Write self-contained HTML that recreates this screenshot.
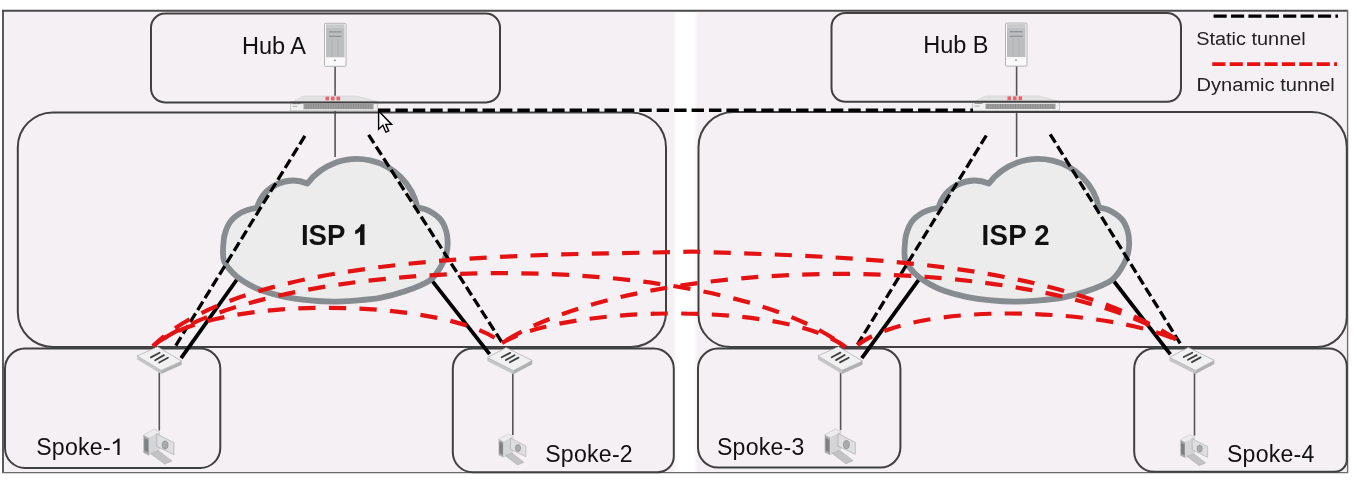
<!DOCTYPE html>
<html><head><meta charset="utf-8"><title>Hub and spoke</title>
<style>html,body{margin:0;padding:0;background:#fff;width:1357px;height:482px;overflow:hidden}svg{display:block}text{will-change:transform}</style>
</head><body>
<svg width="1357" height="482" viewBox="0 0 1357 482"><rect x="0" y="0" width="1357" height="482" fill="#ffffff"/>
<rect x="3" y="10.8" width="1344.5" height="461.8" fill="#f5f0f4"/>
<defs><linearGradient id="ws" x1="0" x2="1" y1="0" y2="0"><stop offset="0" stop-color="#ffffff" stop-opacity="0"/><stop offset="0.18" stop-color="#ffffff"/><stop offset="0.82" stop-color="#ffffff"/><stop offset="1" stop-color="#ffffff" stop-opacity="0"/></linearGradient></defs>
<rect x="672.5" y="12" width="25.5" height="460" fill="url(#ws)"/>
<line x1="2" y1="10.8" x2="1348" y2="10.8" stroke="#4a4a4a" stroke-width="2"/>
<line x1="3" y1="10" x2="3" y2="473" stroke="#4a4a4a" stroke-width="1.8"/>
<line x1="1347.6" y1="10" x2="1347.6" y2="473" stroke="#707070" stroke-width="1.4"/>
<line x1="2" y1="472.6" x2="1348" y2="472.6" stroke="#6a6a6a" stroke-width="1.4"/>
<g stroke="#555" stroke-width="1.6">
<line x1="335.1" y1="66" x2="335.1" y2="157"/>
<line x1="1016.6" y1="66" x2="1016.6" y2="157"/>
</g>
<g transform="translate(290.5,95.8)"><polygon points="2.5,5.8 13,0.3 66,0.3 87,5.8" fill="#e2e2e3" stroke="#cfcfd0" stroke-width="0.6"/><rect x="35" y="0.8" width="3.6" height="3.8" fill="#e8646c"/><rect x="40.5" y="0.8" width="3.6" height="3.8" fill="#e8646c"/><rect x="46" y="0.8" width="3.6" height="3.8" fill="#e8646c"/><rect x="0" y="5.8" width="87" height="9.2" fill="#f0f0f0" stroke="#c0c0c0" stroke-width="0.8"/><rect x="13" y="8.2" width="70" height="5.2" fill="#9c9c9d"/><g stroke="#808081" stroke-width="0.5"><line x1="15.5" y1="8.4" x2="15.5" y2="13.2"/><line x1="18.0" y1="8.4" x2="18.0" y2="13.2"/><line x1="20.5" y1="8.4" x2="20.5" y2="13.2"/><line x1="23.0" y1="8.4" x2="23.0" y2="13.2"/><line x1="25.5" y1="8.4" x2="25.5" y2="13.2"/><line x1="28.0" y1="8.4" x2="28.0" y2="13.2"/><line x1="30.5" y1="8.4" x2="30.5" y2="13.2"/><line x1="33.0" y1="8.4" x2="33.0" y2="13.2"/><line x1="35.5" y1="8.4" x2="35.5" y2="13.2"/><line x1="38.0" y1="8.4" x2="38.0" y2="13.2"/><line x1="40.5" y1="8.4" x2="40.5" y2="13.2"/><line x1="43.0" y1="8.4" x2="43.0" y2="13.2"/><line x1="45.5" y1="8.4" x2="45.5" y2="13.2"/><line x1="48.0" y1="8.4" x2="48.0" y2="13.2"/><line x1="50.5" y1="8.4" x2="50.5" y2="13.2"/><line x1="53.0" y1="8.4" x2="53.0" y2="13.2"/><line x1="55.5" y1="8.4" x2="55.5" y2="13.2"/><line x1="58.0" y1="8.4" x2="58.0" y2="13.2"/><line x1="60.5" y1="8.4" x2="60.5" y2="13.2"/><line x1="63.0" y1="8.4" x2="63.0" y2="13.2"/><line x1="65.5" y1="8.4" x2="65.5" y2="13.2"/><line x1="68.0" y1="8.4" x2="68.0" y2="13.2"/><line x1="70.5" y1="8.4" x2="70.5" y2="13.2"/><line x1="73.0" y1="8.4" x2="73.0" y2="13.2"/><line x1="75.5" y1="8.4" x2="75.5" y2="13.2"/><line x1="78.0" y1="8.4" x2="78.0" y2="13.2"/><line x1="80.5" y1="8.4" x2="80.5" y2="13.2"/></g><rect x="2" y="7.4" width="8" height="1" fill="#9a9a9a"/><rect x="2" y="10" width="5" height="1" fill="#b0b0b0"/></g>
<g transform="translate(972.5,95.6)"><polygon points="2.5,5.8 13,0.3 66,0.3 87,5.8" fill="#e2e2e3" stroke="#cfcfd0" stroke-width="0.6"/><rect x="35" y="0.8" width="3.6" height="3.8" fill="#e8646c"/><rect x="40.5" y="0.8" width="3.6" height="3.8" fill="#e8646c"/><rect x="46" y="0.8" width="3.6" height="3.8" fill="#e8646c"/><rect x="0" y="5.8" width="87" height="9.2" fill="#f0f0f0" stroke="#c0c0c0" stroke-width="0.8"/><rect x="13" y="8.2" width="70" height="5.2" fill="#9c9c9d"/><g stroke="#808081" stroke-width="0.5"><line x1="15.5" y1="8.4" x2="15.5" y2="13.2"/><line x1="18.0" y1="8.4" x2="18.0" y2="13.2"/><line x1="20.5" y1="8.4" x2="20.5" y2="13.2"/><line x1="23.0" y1="8.4" x2="23.0" y2="13.2"/><line x1="25.5" y1="8.4" x2="25.5" y2="13.2"/><line x1="28.0" y1="8.4" x2="28.0" y2="13.2"/><line x1="30.5" y1="8.4" x2="30.5" y2="13.2"/><line x1="33.0" y1="8.4" x2="33.0" y2="13.2"/><line x1="35.5" y1="8.4" x2="35.5" y2="13.2"/><line x1="38.0" y1="8.4" x2="38.0" y2="13.2"/><line x1="40.5" y1="8.4" x2="40.5" y2="13.2"/><line x1="43.0" y1="8.4" x2="43.0" y2="13.2"/><line x1="45.5" y1="8.4" x2="45.5" y2="13.2"/><line x1="48.0" y1="8.4" x2="48.0" y2="13.2"/><line x1="50.5" y1="8.4" x2="50.5" y2="13.2"/><line x1="53.0" y1="8.4" x2="53.0" y2="13.2"/><line x1="55.5" y1="8.4" x2="55.5" y2="13.2"/><line x1="58.0" y1="8.4" x2="58.0" y2="13.2"/><line x1="60.5" y1="8.4" x2="60.5" y2="13.2"/><line x1="63.0" y1="8.4" x2="63.0" y2="13.2"/><line x1="65.5" y1="8.4" x2="65.5" y2="13.2"/><line x1="68.0" y1="8.4" x2="68.0" y2="13.2"/><line x1="70.5" y1="8.4" x2="70.5" y2="13.2"/><line x1="73.0" y1="8.4" x2="73.0" y2="13.2"/><line x1="75.5" y1="8.4" x2="75.5" y2="13.2"/><line x1="78.0" y1="8.4" x2="78.0" y2="13.2"/><line x1="80.5" y1="8.4" x2="80.5" y2="13.2"/></g><rect x="2" y="7.4" width="8" height="1" fill="#9a9a9a"/><rect x="2" y="10" width="5" height="1" fill="#b0b0b0"/></g>
<rect x="151" y="13.6" width="349.0" height="88.8" rx="14" ry="14" fill="none" stroke="#404040" stroke-width="2.0"/>
<rect x="831.5" y="12.9" width="349.5" height="88.9" rx="14" ry="14" fill="none" stroke="#404040" stroke-width="2.0"/>
<rect x="17.8" y="112.4" width="648.2" height="234.6" rx="35" ry="35" fill="none" stroke="#404040" stroke-width="2.0"/>
<path d="M733.5,112 H1311.8 A35,35 0 0 1 1346.8,147 V317 A30,30 0 0 1 1316.8,347 H730.5 A32,32 0 0 1 698.5,315 V147 A35,35 0 0 1 733.5,112 Z" fill="none" stroke="#404040" stroke-width="2.0"/>
<rect x="5" y="348.6" width="215.3" height="119.4" rx="20" ry="20" fill="none" stroke="#404040" stroke-width="2.0"/>
<path d="M472.8,348.6 H653.8 A20,20 0 0 1 673.8,368.6 V456.2 A16,16 0 0 1 657.8,472.2 H472.8 A20,20 0 0 1 452.8,452.2 V368.6 A20,20 0 0 1 472.8,348.6 Z" fill="none" stroke="#404040" stroke-width="2.0"/>
<rect x="698" y="348.6" width="202.4" height="119.0" rx="20" ry="20" fill="none" stroke="#404040" stroke-width="2.0"/>
<path d="M1154.2,348.6 H1328.8 A18,18 0 0 1 1346.8,366.6 V459.8 A12,12 0 0 1 1334.8,471.8 H1154.2 A20,20 0 0 1 1134.2,451.8 V368.6 A20,20 0 0 1 1154.2,348.6 Z" fill="none" stroke="#404040" stroke-width="2.0"/>
<g stroke="#555" stroke-width="1.6">
<line x1="159.3" y1="372" x2="159.3" y2="430.5"/>
<line x1="512.8" y1="372" x2="512.8" y2="435"/>
<line x1="840.6" y1="372" x2="840.6" y2="430.2"/>
<line x1="1194.5" y1="372" x2="1194.5" y2="435.6"/>
</g>
<g stroke="#000" stroke-width="3.8" stroke-linecap="butt">
<line x1="240.5" y1="274.5" x2="181.1" y2="358.2"/>
<line x1="426.5" y1="273.6" x2="489.6" y2="354.2"/>
<line x1="923.4" y1="273.4" x2="861.8" y2="358.2"/>
<line x1="1108.7" y1="274.5" x2="1170.4" y2="354.3"/>
</g>
<path d="M257.00,207.90 A37.5,37.5 0 0 1 307.40,183.50 A62.1,62.1 0 0 1 417.50,207.60 C419.25,208.07 424.17,208.42 428.00,210.40 C431.83,212.38 437.45,215.98 440.50,219.50 C443.55,223.02 445.10,227.50 446.30,231.50 C447.50,235.50 447.70,239.75 447.70,243.50 C447.70,247.25 447.33,250.33 446.30,254.00 C445.27,257.67 444.23,261.12 441.50,265.50 C438.77,269.88 435.98,276.00 429.90,280.30 C423.82,284.60 413.32,288.37 405.00,291.30 C396.68,294.23 388.33,296.35 380.00,297.90 C371.67,299.45 363.00,299.98 355.00,300.60 C347.00,301.22 339.50,301.63 332.00,301.60 C324.50,301.57 317.85,301.20 310.00,300.40 C302.15,299.60 292.72,298.37 284.90,296.80 C277.08,295.23 269.08,293.03 263.10,291.00 C257.12,288.97 253.35,286.98 249.00,284.60 C244.65,282.22 240.33,279.37 237.00,276.70 C233.67,274.03 231.20,271.33 229.00,268.60 C226.80,265.87 224.80,263.30 223.80,260.30 C222.80,257.30 223.03,253.65 223.00,250.60 C222.97,247.55 223.37,244.47 223.60,242.00 C223.83,239.53 223.75,238.40 224.40,235.80 C225.05,233.20 226.23,229.10 227.50,226.40 C228.77,223.70 230.25,221.57 232.00,219.60 C233.75,217.63 235.92,216.00 238.00,214.60 C240.08,213.20 242.33,212.13 244.50,211.20 C246.67,210.27 248.92,209.55 251.00,209.00 C253.08,208.45 256.00,208.08 257.00,207.90 Z" fill="#ececed" stroke="#878c91" stroke-width="5.8" stroke-linejoin="round"/>
<path d="M938.50,207.90 A37.5,37.5 0 0 1 988.90,183.50 A62.1,62.1 0 0 1 1099.00,207.60 C1100.75,208.07 1105.67,208.42 1109.50,210.40 C1113.33,212.38 1118.95,215.98 1122.00,219.50 C1125.05,223.02 1126.60,227.50 1127.80,231.50 C1129.00,235.50 1129.20,239.75 1129.20,243.50 C1129.20,247.25 1128.83,250.33 1127.80,254.00 C1126.77,257.67 1125.73,261.12 1123.00,265.50 C1120.27,269.88 1117.48,276.00 1111.40,280.30 C1105.32,284.60 1094.82,288.37 1086.50,291.30 C1078.18,294.23 1069.83,296.35 1061.50,297.90 C1053.17,299.45 1044.50,299.98 1036.50,300.60 C1028.50,301.22 1021.00,301.63 1013.50,301.60 C1006.00,301.57 999.35,301.20 991.50,300.40 C983.65,299.60 974.22,298.37 966.40,296.80 C958.58,295.23 950.58,293.03 944.60,291.00 C938.62,288.97 934.85,286.98 930.50,284.60 C926.15,282.22 921.83,279.37 918.50,276.70 C915.17,274.03 912.70,271.33 910.50,268.60 C908.30,265.87 906.30,263.30 905.30,260.30 C904.30,257.30 904.53,253.65 904.50,250.60 C904.47,247.55 904.87,244.47 905.10,242.00 C905.33,239.53 905.25,238.40 905.90,235.80 C906.55,233.20 907.73,229.10 909.00,226.40 C910.27,223.70 911.75,221.57 913.50,219.60 C915.25,217.63 917.42,216.00 919.50,214.60 C921.58,213.20 923.83,212.13 926.00,211.20 C928.17,210.27 930.42,209.55 932.50,209.00 C934.58,208.45 937.50,208.08 938.50,207.90 Z" fill="#ececed" stroke="#878c91" stroke-width="5.8" stroke-linejoin="round"/>
<g font-family="&quot;Liberation Sans&quot;, sans-serif" font-weight="bold" font-size="27.6" fill="#111">
<text transform="translate(300.9,244.9) scale(1,1.04)" x="0" y="0">ISP</text>
<text transform="translate(981.6,244.6) scale(1,1.04)" x="0" y="0" letter-spacing="0.25">ISP 2</text>
</g>
<path d="M364.5,224.2 V244.9 H360.1 V231.4 C358.6,232.7 356.9,233.6 355.2,234.2 V230.4 C357.4,229.6 359.8,227.3 361.1,224.2 Z" fill="#111"/>
<g stroke="#000" stroke-width="3.3" stroke-dasharray="9.9 4.0" fill="none">
<line x1="304.9" y1="135.9" x2="174.9" y2="347"/>
<line x1="368.6" y1="134.9" x2="502.6" y2="343.4"/>
<line x1="986.3" y1="135.5" x2="857.4" y2="344.6"/>
<line x1="1050.2" y1="134.3" x2="1180.9" y2="344.6"/>
</g>
<line x1="378" y1="110.3" x2="973" y2="110.3" stroke="#000" stroke-width="3.6" stroke-dasharray="12.4 5.02"/>
<g stroke="#e41212" stroke-width="4.2" stroke-dasharray="17.2 13.35" fill="none">
<path d="M153.0,346.0 C255.1,246.7 566.5,256.1 692.0,251.5 C840.2,257.2 1053.0,258.4 1177.0,340.0" stroke-dashoffset="2.20"/>
<path d="M153.0,346.0 C276.3,252.0 715.2,245.4 845.5,347.0" stroke-dashoffset="16.70"/>
<path d="M153.0,346.0 C215.8,292.3 449.5,298.8 502.0,343.0" stroke-dashoffset="0.47"/>
<path d="M502.0,343.0 C642.5,251.3 1036.7,251.5 1177.0,340.0" stroke-dashoffset="24.95"/>
<path d="M502.0,343.0 C566.5,304.3 786.2,301.6 845.5,347.0" stroke-dashoffset="0.07"/>
<path d="M857.4,345.0 C919.6,298.9 1108.9,308.8 1177.0,340.0" stroke-dashoffset="0.11"/>
</g>
<g transform="translate(324,22.8)">
<rect x="0.5" y="0.5" width="21.5" height="43" rx="1" fill="#fafafa" stroke="#b4b4b4" stroke-width="1"/>
<rect x="2" y="1.5" width="18.5" height="3.5" fill="#c8c8c8"/>
<rect x="2" y="5" width="18.5" height="29.5" fill="#bcbec0"/>
<rect x="5" y="8.5" width="12.5" height="1.2" fill="#8e9092"/>
<rect x="5" y="13" width="12.5" height="1.2" fill="#8e9092"/>
<line x1="8" y1="16" x2="8" y2="34" stroke="#aaa" stroke-width="0.6"/>
<line x1="14" y1="16" x2="14" y2="34" stroke="#aaa" stroke-width="0.6"/>
<circle cx="11" cy="37.5" r="0.9" fill="#888"/>
</g>
<g transform="translate(1005,22.6)">
<rect x="0.5" y="0.5" width="21.5" height="43" rx="1" fill="#fafafa" stroke="#b4b4b4" stroke-width="1"/>
<rect x="2" y="1.5" width="18.5" height="3.5" fill="#c8c8c8"/>
<rect x="2" y="5" width="18.5" height="29.5" fill="#bcbec0"/>
<rect x="5" y="8.5" width="12.5" height="1.2" fill="#8e9092"/>
<rect x="5" y="13" width="12.5" height="1.2" fill="#8e9092"/>
<line x1="8" y1="16" x2="8" y2="34" stroke="#aaa" stroke-width="0.6"/>
<line x1="14" y1="16" x2="14" y2="34" stroke="#aaa" stroke-width="0.6"/>
<circle cx="11" cy="37.5" r="0.9" fill="#888"/>
</g>
<g transform="translate(161.2,370.4)"><polygon points="-24.10,-14.40 0.00,0.00 0.00,3.60 -24.10,-10.80" fill="#c6c6c8"/><polygon points="0.00,0.00 20.50,-9.25 20.50,-5.65 0.00,3.60" fill="#b0b0b2"/><polygon points="-24.10,-14.40 -3.60,-23.65 20.50,-9.25 0.00,0.00" fill="#f1f1f2" stroke="#a8a8aa" stroke-width="0.7" stroke-linejoin="round"/><g stroke="#404042" stroke-width="1.8" stroke-linecap="round"><line x1="-10.3" y1="-13" x2="-1.6" y2="-17.7"/><line x1="-6" y1="-10.2" x2="2.7" y2="-15.3"/><line x1="-2" y1="-7.9" x2="6.7" y2="-12.6"/></g></g>
<g transform="translate(513.4,370.6)"><polygon points="-26.00,-13.00 0.00,0.00 0.00,3.60 -26.00,-9.40" fill="#c6c6c8"/><polygon points="0.00,0.00 18.80,-10.00 18.80,-6.40 0.00,3.60" fill="#b0b0b2"/><polygon points="-26.00,-13.00 -7.20,-23.00 18.80,-10.00 0.00,0.00" fill="#f1f1f2" stroke="#a8a8aa" stroke-width="0.7" stroke-linejoin="round"/><g stroke="#404042" stroke-width="1.8" stroke-linecap="round"><line x1="-11.8" y1="-13.4" x2="-3.2" y2="-17.7"/><line x1="-7.5" y1="-10.6" x2="1.2" y2="-15.3"/><line x1="-3.6" y1="-8.3" x2="5.1" y2="-13"/></g></g>
<g transform="translate(842,370.3)"><polygon points="-24.10,-14.40 0.00,0.00 0.00,3.60 -24.10,-10.80" fill="#c6c6c8"/><polygon points="0.00,0.00 20.50,-9.25 20.50,-5.65 0.00,3.60" fill="#b0b0b2"/><polygon points="-24.10,-14.40 -3.60,-23.65 20.50,-9.25 0.00,0.00" fill="#f1f1f2" stroke="#a8a8aa" stroke-width="0.7" stroke-linejoin="round"/><g stroke="#404042" stroke-width="1.8" stroke-linecap="round"><line x1="-10.3" y1="-13" x2="-1.6" y2="-17.7"/><line x1="-6" y1="-10.2" x2="2.7" y2="-15.3"/><line x1="-2" y1="-7.9" x2="6.7" y2="-12.6"/></g></g>
<g transform="translate(1195.5,370.4)"><polygon points="-26.00,-13.00 0.00,0.00 0.00,3.60 -26.00,-9.40" fill="#c6c6c8"/><polygon points="0.00,0.00 18.80,-10.00 18.80,-6.40 0.00,3.60" fill="#b0b0b2"/><polygon points="-26.00,-13.00 -7.20,-23.00 18.80,-10.00 0.00,0.00" fill="#f1f1f2" stroke="#a8a8aa" stroke-width="0.7" stroke-linejoin="round"/><g stroke="#404042" stroke-width="1.8" stroke-linecap="round"><line x1="-11.8" y1="-13.4" x2="-3.2" y2="-17.7"/><line x1="-7.5" y1="-10.6" x2="1.2" y2="-15.3"/><line x1="-3.6" y1="-8.3" x2="5.1" y2="-13"/></g></g>
<g transform="translate(159.3,428.6) scale(1.12)">
<polygon points="-14.2,5.9 -4.6,0.4 0.5,3.3 -9.2,8.6" fill="#ececed" stroke="#bdbdbf" stroke-width="0.5"/>
<polygon points="-14.2,5.9 -9.2,8.6 -9.2,24 -14.2,21.6" fill="#a9aaac"/>
<polygon points="-13.4,8.4 -10,10.2 -10,21.4 -13.4,19.6" fill="#7e7f81"/>
<polygon points="-9.2,8.6 0.5,3.3 0.5,19 -9.2,24" fill="#d5d5d7"/>
<polygon points="-2.3,4.7 13.1,12.6 13.1,23.3 -2.3,15.9" fill="#dfdfe1" stroke="#a9a9ab" stroke-width="0.6"/>
<ellipse cx="5.2" cy="14.6" rx="2.6" ry="3.6" fill="#a9aaac" stroke="#88898b" stroke-width="0.6"/>
<polygon points="-7.5,22.4 -0.9,19.6 11.2,28.9 4.7,31.7" fill="#c2c3c5" stroke="#a6a6a8" stroke-width="0.5"/>
</g>
<g transform="translate(512.8,433.4) scale(1.0)">
<polygon points="-14.2,5.9 -4.6,0.4 0.5,3.3 -9.2,8.6" fill="#ececed" stroke="#bdbdbf" stroke-width="0.5"/>
<polygon points="-14.2,5.9 -9.2,8.6 -9.2,24 -14.2,21.6" fill="#a9aaac"/>
<polygon points="-13.4,8.4 -10,10.2 -10,21.4 -13.4,19.6" fill="#7e7f81"/>
<polygon points="-9.2,8.6 0.5,3.3 0.5,19 -9.2,24" fill="#d5d5d7"/>
<polygon points="-2.3,4.7 13.1,12.6 13.1,23.3 -2.3,15.9" fill="#dfdfe1" stroke="#a9a9ab" stroke-width="0.6"/>
<ellipse cx="5.2" cy="14.6" rx="2.6" ry="3.6" fill="#a9aaac" stroke="#88898b" stroke-width="0.6"/>
<polygon points="-7.5,22.4 -0.9,19.6 11.2,28.9 4.7,31.7" fill="#c2c3c5" stroke="#a6a6a8" stroke-width="0.5"/>
</g>
<g transform="translate(840.6,428.3) scale(1.12)">
<polygon points="-14.2,5.9 -4.6,0.4 0.5,3.3 -9.2,8.6" fill="#ececed" stroke="#bdbdbf" stroke-width="0.5"/>
<polygon points="-14.2,5.9 -9.2,8.6 -9.2,24 -14.2,21.6" fill="#a9aaac"/>
<polygon points="-13.4,8.4 -10,10.2 -10,21.4 -13.4,19.6" fill="#7e7f81"/>
<polygon points="-9.2,8.6 0.5,3.3 0.5,19 -9.2,24" fill="#d5d5d7"/>
<polygon points="-2.3,4.7 13.1,12.6 13.1,23.3 -2.3,15.9" fill="#dfdfe1" stroke="#a9a9ab" stroke-width="0.6"/>
<ellipse cx="5.2" cy="14.6" rx="2.6" ry="3.6" fill="#a9aaac" stroke="#88898b" stroke-width="0.6"/>
<polygon points="-7.5,22.4 -0.9,19.6 11.2,28.9 4.7,31.7" fill="#c2c3c5" stroke="#a6a6a8" stroke-width="0.5"/>
</g>
<g transform="translate(1194.5,434) scale(1.0)">
<polygon points="-14.2,5.9 -4.6,0.4 0.5,3.3 -9.2,8.6" fill="#ececed" stroke="#bdbdbf" stroke-width="0.5"/>
<polygon points="-14.2,5.9 -9.2,8.6 -9.2,24 -14.2,21.6" fill="#a9aaac"/>
<polygon points="-13.4,8.4 -10,10.2 -10,21.4 -13.4,19.6" fill="#7e7f81"/>
<polygon points="-9.2,8.6 0.5,3.3 0.5,19 -9.2,24" fill="#d5d5d7"/>
<polygon points="-2.3,4.7 13.1,12.6 13.1,23.3 -2.3,15.9" fill="#dfdfe1" stroke="#a9a9ab" stroke-width="0.6"/>
<ellipse cx="5.2" cy="14.6" rx="2.6" ry="3.6" fill="#a9aaac" stroke="#88898b" stroke-width="0.6"/>
<polygon points="-7.5,22.4 -0.9,19.6 11.2,28.9 4.7,31.7" fill="#c2c3c5" stroke="#a6a6a8" stroke-width="0.5"/>
</g>
<path transform="translate(378.6,111)" d="M0,0 L0,18.2 L4.3,14.2 L7.3,21.2 L10.1,20 L7.2,13.4 L13,13.4 Z" fill="#fff" stroke="#000" stroke-width="1.4" stroke-linejoin="miter"/>
<line x1="1213.6" y1="16.1" x2="1338" y2="16.1" stroke="#000" stroke-width="3.4" stroke-dasharray="13.1 4.3"/>
<line x1="1212.3" y1="64.1" x2="1337" y2="64.1" stroke="#e81010" stroke-width="3.6" stroke-dasharray="13.1 4.3"/>
<g font-family="&quot;Liberation Sans&quot;, sans-serif" fill="#222">
<text x="1196.2" y="44.6" font-size="18" textLength="109.5" lengthAdjust="spacingAndGlyphs">Static tunnel</text>
<text x="1196.6" y="91.1" font-size="18" textLength="138.2" lengthAdjust="spacingAndGlyphs">Dynamic tunnel</text>
</g>
<g font-family="&quot;Liberation Sans&quot;, sans-serif" font-size="23.5" fill="#111">
<text x="242.0" y="54.0">Hub A</text>
<text x="923.2" y="52.7">Hub B</text>
</g>
<g font-family="&quot;Liberation Sans&quot;, sans-serif" font-size="23.1" letter-spacing="0.25" fill="#111">
<text x="36.2" y="455.3">Spoke-</text>
<text x="545.2" y="461.9">Spoke-2</text>
<text x="716.9" y="454.9">Spoke-3</text>
<text x="1226.9" y="461.8">Spoke-4</text>
</g>
<path d="M119.6,438.4 V454.9 H117.4 V441.7 C116.3,442.7 114.6,443.7 112.9,444.3 V442.3 C115.1,441.4 116.9,439.8 118,438.4 Z" fill="#111"/></svg>
</body></html>
